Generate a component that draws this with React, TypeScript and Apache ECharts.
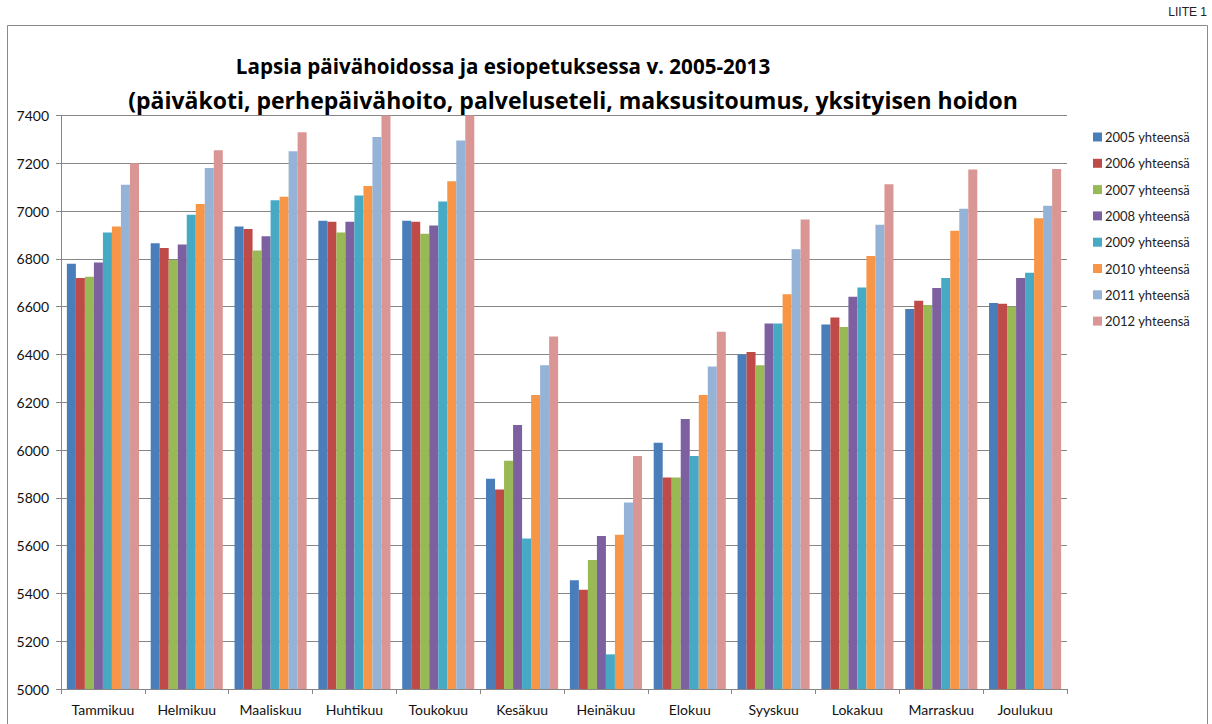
import React, { useEffect, useRef } from "react";
import * as echarts from "echarts";

const categories = ["Tammikuu", "Helmikuu", "Maaliskuu", "Huhtikuu", "Toukokuu", "Kesäkuu", "Heinäkuu", "Elokuu", "Syyskuu", "Lokakuu", "Marraskuu", "Joulukuu"];
const seriesNames = ["2005 yhteensä", "2006 yhteensä", "2007 yhteensä", "2008 yhteensä", "2009 yhteensä", "2010 yhteensä", "2011 yhteensä", "2012 yhteensä"];
const colors = ["#4A7EBB", "#BE4B48", "#98B954", "#7D60A0", "#46AAC5", "#F79646", "#95B3D7", "#D99694"];

const y2005 = [6780, 6865, 6935, 6960, 6960, 5880, 5455, 6030, 6400, 6525, 6590, 6615];
const y2006 = [6720, 6845, 6925, 6955, 6955, 5835, 5415, 5885, 6410, 6555, 6625, 6612];
const y2007 = [6725, 6795, 6835, 6910, 6905, 5955, 5540, 5885, 6355, 6515, 6607, 6600];
const y2008 = [6785, 6860, 6895, 6955, 6940, 6105, 5640, 6130, 6530, 6642, 6678, 6720];
const y2009 = [6910, 6985, 7045, 7065, 7040, 5630, 5145, 5975, 6530, 6680, 6720, 6742];
const y2010 = [6935, 7030, 7060, 7105, 7125, 6230, 5645, 6230, 6652, 6812, 6918, 6970];
const y2011 = [7110, 7180, 7250, 7310, 7295, 6355, 5780, 6350, 6840, 6943, 7010, 7022];
const y2012 = [7200, 7255, 7330, 7400, 7400, 6475, 5975, 6495, 6965, 7112, 7174, 7176];
const allSeries = [y2005, y2006, y2007, y2008, y2009, y2010, y2011, y2012];

const yMin = 5000;
const yMax = 7400;
const yStep = 200;

const titleLine1 = "Lapsia päivähoidossa ja esiopetuksessa v. 2005-2013";
const titleLine2 = "(päiväkoti, perhepäivähoito, palveluseteli, maksusitoumus, yksityisen hoidon";
const cornerLabel = "LIITE 1";

export default function App() {
  const ref = useRef<HTMLDivElement>(null);
  useEffect(() => {
    if (!ref.current) return;
    const chart = echarts.init(ref.current, null, { renderer: "svg" });
    const axisGrey = "#868686";
    chart.setOption({
      animation: false,
      backgroundColor: "#ffffff",
      color: colors,
      grid: { left: 61, right: 145, top: 115.5, bottom: 35, containLabel: false },
      legend: {
        orient: "vertical",
        left: 1088,
        top: 125.5,
        itemWidth: 9,
        itemHeight: 9,
        itemGap: 13.3,
        icon: "rect",
        data: seriesNames,
        textStyle: { fontFamily: "Lato", fontSize: 13, color: "#222", padding: [0, 0, 0, -2] },
      },
      xAxis: {
        type: "category",
        data: categories,
        axisLine: { lineStyle: { color: axisGrey, width: 1 } },
        axisTick: { show: true, length: 5, lineStyle: { color: axisGrey } },
        axisLabel: { interval: 0, fontFamily: "Lato", fontSize: 14, color: "#111", margin: 13 },
      },
      yAxis: {
        type: "value",
        min: yMin,
        max: yMax,
        interval: yStep,
        axisLine: { show: true, lineStyle: { color: axisGrey, width: 1 } },
        axisTick: { show: true, length: 5, lineStyle: { color: axisGrey } },
        axisLabel: { fontFamily: "Lato", fontSize: 14, color: "#111", margin: 12, formatter: (v: number) => String(v) },
        splitLine: { show: true, lineStyle: { color: axisGrey, width: 1 } },
      },
      series: allSeries.map((d, i) => ({
        name: seriesNames[i],
        type: "bar",
        data: d,
        barGap: "0%",
        barCategoryGap: "14%",
        itemStyle: { color: colors[i] },
      })),
      graphic: [
        {
          type: "rect",
          shape: { x: 7.5, y: 25.5, width: 1200, height: 720 },
          style: { fill: "none", stroke: "#8a8a8a", lineWidth: 1 },
          silent: true,
        },
        {
          type: "text",
          x: 1207,
          y: 6,
          style: { text: cornerLabel, textAlign: "right", fontFamily: "Liberation Sans Narrow, Liberation Sans", fontSize: 12, fill: "#222" },
        },
        {
          type: "text",
          x: 503,
          y: 55.5,
          style: { text: titleLine1, textAlign: "center", fontFamily: "Open Sans", fontWeight: "bold", fontSize: 20.6, fill: "#000" },
        },
        {
          type: "text",
          x: 573,
          y: 88,
          style: { text: titleLine2, textAlign: "center", fontFamily: "Open Sans", fontWeight: "bold", fontSize: 23, fill: "#000" },
        },
      ],
    });
    return () => chart.dispose();
  }, []);
  return <div ref={ref} style={{ position: "absolute", left: 0, top: 0, width: 1212, height: 724 }} />;
}
